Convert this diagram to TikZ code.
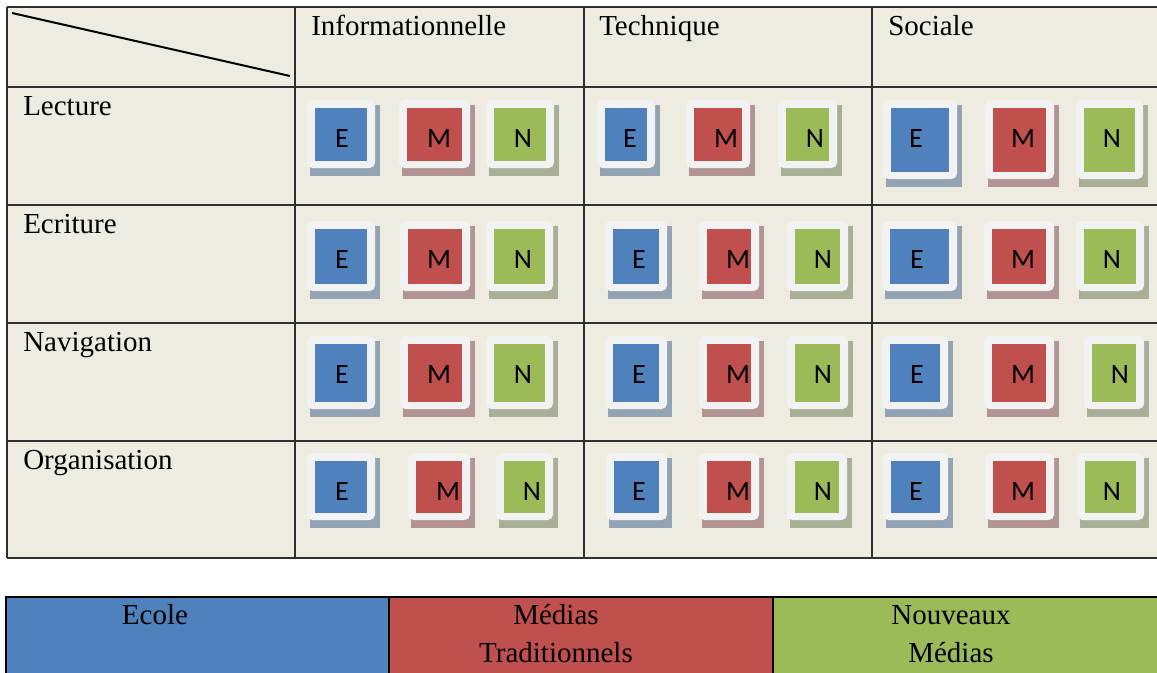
\documentclass[tikz,border=0pt]{standalone}
\usepackage{fontspec}
\setmainfont{Liberation Serif}
\newfontfamily\calfont{Carlito}
\definecolor{tablebg}{HTML}{EEECE1}
\definecolor{gridline}{HTML}{303030}
\definecolor{boxframe}{HTML}{F2F2F2}
\definecolor{ebmain}{HTML}{4F81BD}
\definecolor{ebshadow}{HTML}{94A3B4}
\definecolor{mrmain}{HTML}{C0504D}
\definecolor{mrshadow}{HTML}{B39494}
\definecolor{ngmain}{HTML}{9BBB59}
\definecolor{ngshadow}{HTML}{A9AF96}
\tikzset{
  grid/.style={draw=gridline, line width=1.3},
  headtxt/.style={anchor=base west, inner sep=0, font=\fontsize{21.75}{26}\selectfont},
  legtxt/.style={anchor=base, inner sep=0, font=\fontsize{21.75}{26}\selectfont},
  lettertxt/.style={anchor=base, inner sep=0, font=\calfont\fontsize{21}{25}\selectfont},
}
\newcommand{\rowbase}{147}
% #1 name, #2 colour key, #3 letter, #4 x0, #5 x1, #6 y0, #7 y1, #8 letter x
\newcommand{\cellbox}[8]{%
  \fill[#2shadow] (#4+3,#6+5) rectangle (#5+5,#7+8);
  \fill[boxframe, rounded corners=4] (#4,#6) rectangle (#5,#7);
  \fill[#2main] (#4+8,#6+8) rectangle (#5-8,#7-7);
  \node[lettertxt] (#1) at (#8,\rowbase) {#3};
}
\begin{document}
\begin{tikzpicture}[x=0.75pt,y=-0.75pt]
\clip (0,0) rectangle (1157,672);
\fill[white] (0,0) rectangle (1157,672);
% table
\fill[tablebg] (7,7) rectangle (1162,558);
\foreach \yy in {7,87,205,323,441,558} \draw[grid] (7,\yy) -- (1162,\yy);
\foreach \xx in {7,295,584,872} \draw[grid] (\xx,7) -- (\xx,558);
\coordinate (d1) at (12,13);
\coordinate (d2) at (290,76);
\draw[line width=1.5] (d1) -- (d2);
% headers
\node[headtxt] (hinfo) at (311,35) {Informationnelle};
\node[headtxt] (htech) at (599,35) {Technique};
\node[headtxt] (hsoc) at (888,35) {Sociale};
\node[headtxt] (rlec) at (23,115) {Lecture};
\node[headtxt] (recr) at (23,233) {Ecriture};
\node[headtxt] (rnav) at (23,351) {Navigation};
\node[headtxt] (rorg) at (23,469) {Organisation};
% row 1
\renewcommand{\rowbase}{147}
\cellbox{e11}{eb}{E}{307}{375}{100}{168}{342}
\cellbox{m11}{mr}{M}{399}{470}{100}{168}{439}
\cellbox{n11}{ng}{N}{486}{554}{100}{168}{523}
\cellbox{e12}{eb}{E}{597}{655}{100}{168}{630}
\cellbox{m12}{mr}{M}{686}{750}{100}{168}{726}
\cellbox{n12}{ng}{N}{778}{837}{100}{168}{815}
\cellbox{e13}{eb}{E}{883}{957}{100}{179}{916}
\cellbox{m13}{mr}{M}{985}{1054}{100}{179}{1023}
\cellbox{n13}{ng}{N}{1076}{1143}{100}{179}{1112}
% row 2
\renewcommand{\rowbase}{268}
\cellbox{e21}{eb}{E}{307}{375}{221}{291}{342}
\cellbox{m21}{mr}{M}{400}{470}{221}{291}{439}
\cellbox{n21}{ng}{N}{486}{553}{221}{291}{523}
\cellbox{e22}{eb}{E}{605}{667}{221}{291}{639}
\cellbox{m22}{mr}{M}{699}{759}{221}{291}{738}
\cellbox{n22}{ng}{N}{787}{848}{221}{291}{823}
\cellbox{e23}{eb}{E}{882}{957}{221}{291}{917}
\cellbox{m23}{mr}{M}{984}{1054}{221}{291}{1023}
\cellbox{n23}{ng}{N}{1076}{1144}{221}{291}{1112}
% row 3
\renewcommand{\rowbase}{383}
\cellbox{e31}{eb}{E}{307}{375}{336}{409}{342}
\cellbox{m31}{mr}{M}{400}{470}{336}{409}{439}
\cellbox{n31}{ng}{N}{486}{553}{336}{409}{523}
\cellbox{e32}{eb}{E}{605}{667}{336}{409}{639}
\cellbox{m32}{mr}{M}{699}{759}{336}{409}{738}
\cellbox{n32}{ng}{N}{787}{848}{336}{409}{823}
\cellbox{e33}{eb}{E}{882}{948}{336}{409}{917}
\cellbox{m33}{mr}{M}{984}{1054}{336}{409}{1023}
\cellbox{n33}{ng}{N}{1084}{1144}{336}{409}{1120}
% row 4
\renewcommand{\rowbase}{500}
\cellbox{e41}{eb}{E}{307}{375}{453}{520}{342}
\cellbox{m41}{mr}{M}{408}{470}{453}{520}{448}
\cellbox{n41}{ng}{N}{496}{553}{453}{520}{532}
\cellbox{e42}{eb}{E}{606}{667}{453}{520}{639}
\cellbox{m42}{mr}{M}{699}{759}{453}{520}{738}
\cellbox{n42}{ng}{N}{787}{847}{453}{520}{823}
\cellbox{e43}{eb}{E}{883}{948}{453}{520}{916}
\cellbox{m43}{mr}{M}{985}{1054}{453}{520}{1023}
\cellbox{n43}{ng}{N}{1077}{1144}{453}{520}{1112}
% legend
\fill[ebmain] (6,597) rectangle (389,690);
\fill[mrmain] (389,597) rectangle (773,690);
\fill[ngmain] (773,597) rectangle (1162,690);
\draw[line width=2] (6,690) -- (6,597) -- (1162,597);
\draw[line width=2] (389,597) -- (389,690);
\draw[line width=2] (773,597) -- (773,690);
\node[legtxt] (leg1) at (155,624) {Ecole};
\node[legtxt] (leg2a) at (556,624) {Médias};
\node[legtxt] (leg2b) at (556,662) {Traditionnels};
\node[legtxt] (leg3a) at (951,624) {Nouveaux};
\node[legtxt] (leg3b) at (951,662) {Médias};
\end{tikzpicture}
\end{document}
